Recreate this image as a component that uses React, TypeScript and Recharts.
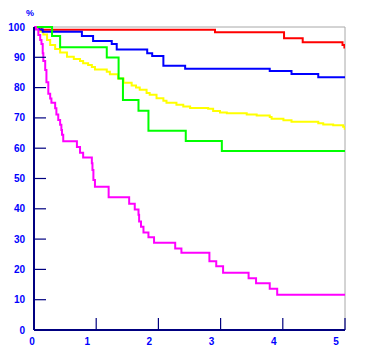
import { LineChart, Line, XAxis, YAxis, ReferenceLine } from "recharts";

// survival curves, [years, percent]
const red: [number, number][] = [
  [0, 100], [0.12, 99.1], [2.91, 98.3], [4.02, 96.3], [4.32, 95.0], [4.96, 94.1], [4.99, 93.2], [5, 93.2],
];

const blue: [number, number][] = [
  [0, 100], [0.08, 99.2], [0.14, 98.4], [0.77, 97.0], [0.95, 95.4], [1.25, 94.4], [1.33, 92.6],
  [1.82, 91.3], [1.9, 90.4], [2.08, 87.2], [2.43, 86.2], [3.79, 85.5], [4.14, 84.5], [4.57, 83.4], [5, 83.4],
];

const green: [number, number][] = [
  [0, 100], [0.29, 97.0], [0.42, 93.3], [1.17, 89.9], [1.36, 83.0], [1.43, 75.9], [1.68, 72.4],
  [1.84, 65.8], [2.44, 62.4], [3.02, 59.1], [5, 59.1],
];

const yellow: [number, number][] = [
  [0, 100], [0.05, 99.5], [0.1, 98.5], [0.15, 97.5], [0.21, 95.7], [0.26, 94.1], [0.34, 92.7],
  [0.42, 91.6], [0.53, 90.2], [0.64, 89.4], [0.74, 88.8], [0.79, 88.0], [0.87, 87.5], [0.93, 86.8],
  [0.98, 86.0], [1.17, 85.2], [1.22, 84.4], [1.35, 83.0], [1.44, 81.6], [1.57, 80.7], [1.64, 80.0],
  [1.7, 79.3], [1.81, 78.2], [1.86, 77.6], [1.97, 76.5], [2.08, 75.7], [2.13, 75.0], [2.29, 74.3],
  [2.4, 73.8], [2.51, 73.3], [2.8, 73.0], [2.88, 72.3], [2.99, 71.8], [3.1, 71.5], [3.42, 71.1],
  [3.58, 70.8], [3.79, 70.3], [3.82, 69.7], [4.01, 69.2], [4.14, 68.7], [4.57, 68.2], [4.65, 67.8],
  [4.81, 67.6], [4.97, 67.1], [4.995, 66.4], [5, 66.4],
];

const magenta: [number, number][] = [
  [0, 100], [0.03, 99.2], [0.07, 97.4], [0.1, 95.7], [0.12, 94.4], [0.14, 91.3], [0.15, 88.8],
  [0.18, 85.8], [0.2, 81.8], [0.23, 78.0], [0.26, 76.4], [0.28, 75.0], [0.34, 73.2], [0.36, 71.1],
  [0.39, 69.3], [0.42, 67.7], [0.44, 66.0], [0.45, 64.4], [0.47, 62.3], [0.69, 60.4], [0.74, 58.5],
  [0.79, 56.9], [0.93, 55.0], [0.94, 52.8], [0.955, 49.5], [0.98, 47.3], [1.2, 43.8], [1.53, 41.7],
  [1.62, 39.8], [1.68, 38.0], [1.69, 35.8], [1.72, 34.1], [1.76, 32.2], [1.84, 30.6], [1.93, 28.8],
  [2.27, 26.9], [2.37, 25.5], [2.82, 22.7], [2.93, 21.0], [3.04, 18.9], [3.45, 17.1], [3.57, 15.4],
  [3.79, 13.6], [3.91, 11.6], [5, 11.6],
];

const xTicks = [0, 1, 2, 3, 4, 5];
const yTicks = [0, 10, 20, 30, 40, 50, 60, 70, 80, 90, 100];

// drawing order: later ones on top
const series = [
  { key: "yellow", color: "#ffff00", pts: yellow },
  { key: "red", color: "#ff0000", pts: red },
  { key: "blue", color: "#0000ff", pts: blue },
  { key: "green", color: "#00ff00", pts: green },
  { key: "magenta", color: "#ff00ff", pts: magenta },
];

const AXIS = "#000080";
const LABEL = "#0000ff";
const FONT = "'Liberation Sans Narrow', 'Arial Narrow', 'Liberation Sans', sans-serif";

const toRows = (pts: [number, number][]) => pts.map(([t, v]) => ({ t, v }));

function YTick({ x, y, payload }: any) {
  const v = payload.value;
  return (
    <g>
      {v > 0 && v < 100 && (
        <line x1={x} x2={x + 12} y1={y} y2={y} stroke={AXIS} strokeWidth={1.2} />
      )}
      <text x={x - 9} y={y + 3.5} textAnchor="end" fill={LABEL} fontSize={10} fontWeight="bold" fontFamily={FONT}>
        {v}
      </text>
    </g>
  );
}

function XTick({ x, y, payload }: any) {
  const v = payload.value;
  return (
    <g>
      {v > 0 && <line x1={x} x2={x} y1={y - 12} y2={y} stroke={AXIS} strokeWidth={1.2} />}
      <text x={x + (v === 0 ? -2 : -9)} y={y + 15} textAnchor="middle" fill={LABEL} fontSize={10} fontWeight="bold" fontFamily={FONT}>
        {v}
      </text>
    </g>
  );
}

export default function App() {
  return (
    <div style={{ position: "absolute", left: 0, top: 0, background: "#fff" }}>
      <LineChart width={365} height={362} margin={{ top: 27, right: 20, bottom: 0, left: 0 }}>
        <ReferenceLine y={100} stroke="#a8a8a8" strokeWidth={1} />
        <ReferenceLine x={5} stroke="#a8a8a8" strokeWidth={1} />
        <XAxis
          dataKey="t"
          type="number"
          domain={[0, 5]}
          ticks={xTicks}
          allowDataOverflow
          height={32}
          tickSize={0}
          tickMargin={0}
          tickLine={false}
          axisLine={{ stroke: AXIS, strokeWidth: 2 }}
          tick={<XTick />}
        />
        <YAxis
          type="number"
          domain={[0, 100]}
          ticks={yTicks}
          width={34}
          tickSize={0}
          tickMargin={0}
          tickLine={false}
          axisLine={{ stroke: AXIS, strokeWidth: 2 }}
          tick={<YTick />}
          label={(p: any) => (
            <text x={30} y={16} textAnchor="middle" fill={LABEL} fontSize={9} fontWeight="bold" fontFamily={FONT}>
              %
            </text>
          )}
        />
        {series.map((s) => (
          <Line
            key={s.key}
            data={toRows(s.pts)}
            dataKey="v"
            type="stepAfter"
            stroke={s.color}
            strokeWidth={2}
            dot={false}
            activeDot={false}
            isAnimationActive={false}
          />
        ))}
      </LineChart>
    </div>
  );
}
